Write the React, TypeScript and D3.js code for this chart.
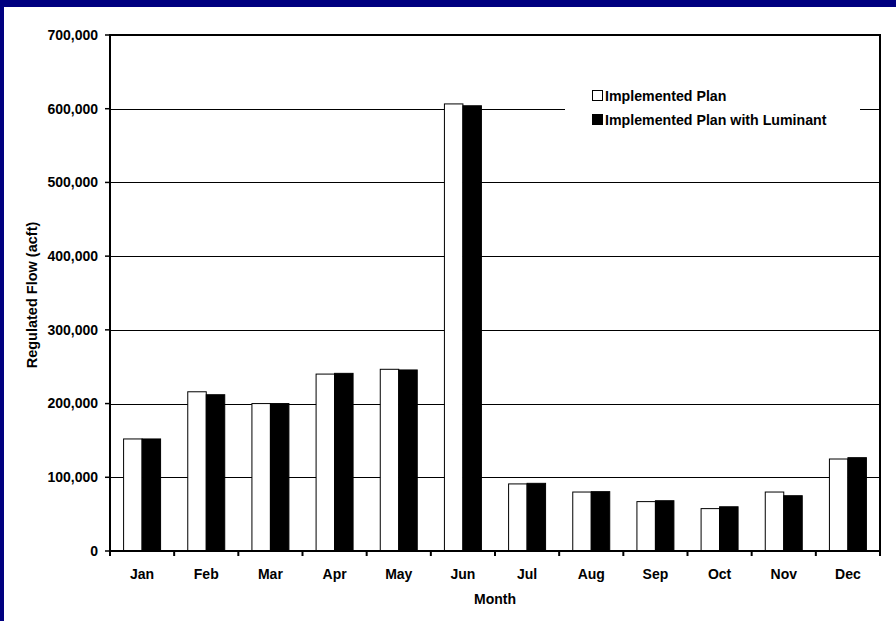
import React from "react";
import * as d3 from "d3";

// monthly regulated flow, acre-feet
const months = ["Jan", "Feb", "Mar", "Apr", "May", "Jun", "Jul", "Aug", "Sep", "Oct", "Nov", "Dec"];
const seriesNames = ["Implemented Plan", "Implemented Plan with Luminant"];
const implementedPlan = [152000, 216000, 200000, 240000, 246500, 606500, 91000, 80000, 67000, 57500, 80000, 124800];
const withLuminant = [152000, 212000, 200000, 241000, 245600, 604000, 91800, 80500, 68200, 60000, 75000, 126600];
const yTicks = [0, 100000, 200000, 300000, 400000, 500000, 600000, 700000];

const W = 896;
const H = 621;
const FONT = "'Liberation Sans', Arial, sans-serif";

export default function App() {
  const left = 110, right = 880, top = 35, bottom = 551;

  const x0 = d3.scaleBand<string>().domain(months).range([left, right]);
  const x1 = d3.scaleBand<string>().domain(seriesNames).range([0, x0.bandwidth()]).paddingOuter(0.735);
  const y = d3.scaleLinear().domain([0, 700000]).range([bottom, top]);
  const fmt = d3.format(",");

  const values = [implementedPlan, withLuminant];
  const fills = ["#ffffff", "#000000"];

  return (
    <svg width={W} height={H} style={{ position: "fixed", left: 0, top: 0 }} fontFamily={FONT} fontWeight="bold">
      <rect x={0} y={0} width={W} height={H} fill="#000080" />
      <rect x={4} y={7} width={W - 4} height={H - 7} fill="#ffffff" />

      {/* gridlines */}
      {yTicks.slice(1, -1).map((t) => (
        <line key={t} x1={left} x2={right} y1={Math.round(y(t)) + 0.5} y2={Math.round(y(t)) + 0.5} stroke="#000" strokeWidth={1} />
      ))}

      {/* legend box hides the grid behind it */}
      <rect x={565} y={80} width={295} height={55} fill="#fff" />
      {seriesNames.map((s, i) => (
        <g key={s} transform={`translate(592, ${96 + i * 24})`}>
          <rect x={0.5} y={-5.5} width={10} height={10} fill={fills[i]} stroke="#000" strokeWidth={1} />
          <text x={13} y={0} dy="0.35em" fontSize={14.2}>{s}</text>
        </g>
      ))}

      {/* bars */}
      {months.map((m, mi) => (
        <g key={m} transform={`translate(${x0(m)},0)`}>
          {seriesNames.map((s, si) => {
            const v = values[si][mi];
            return (
              <rect key={s} x={x1(s)} y={y(v)} width={x1.bandwidth()} height={y(0) - y(v)}
                fill={fills[si]} stroke="#000" strokeWidth={1} />
            );
          })}
        </g>
      ))}

      {/* plot frame */}
      <rect x={left} y={top} width={right - left} height={bottom - top} fill="none" stroke="#000" strokeWidth={2} />

      {/* y axis */}
      {yTicks.map((t) => (
        <g key={t} transform={`translate(0, ${y(t)})`}>
          <line x1={left - 5} x2={left} stroke="#000" strokeWidth={1.5} />
          <text x={left - 12} dy="0.35em" textAnchor="end" fontSize={14}>{fmt(t)}</text>
        </g>
      ))}

      {/* x axis */}
      {[...months.map((m) => x0(m)!), right].map((px, i) => (
        <line key={i} x1={px} x2={px} y1={bottom} y2={bottom + 5} stroke="#000" strokeWidth={2} />
      ))}
      {months.map((m) => (
        <text key={m} x={x0(m)! + x0.bandwidth() / 2} y={574} dy="0.35em" textAnchor="middle" fontSize={14}>{m}</text>
      ))}

      <text x={(left + right) / 2} y={599} dy="0.35em" textAnchor="middle" fontSize={14}>Month</text>
      <text transform={`translate(32, ${(top + bottom) / 2 + 2}) rotate(-90)`} dy="0.35em" textAnchor="middle" fontSize={14.5}>
        Regulated Flow (acft)
      </text>
    </svg>
  );
}
